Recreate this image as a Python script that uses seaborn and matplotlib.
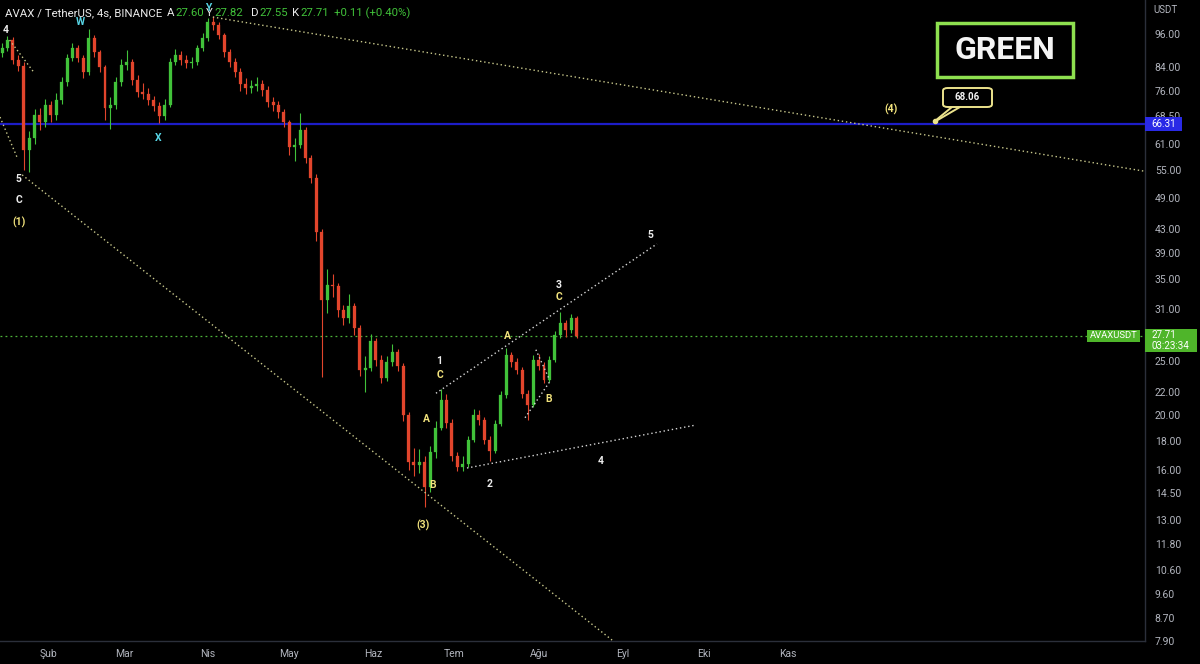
import numpy as np
import pandas as pd
import matplotlib
matplotlib.use("Agg")
import matplotlib.pyplot as plt
from matplotlib.ticker import NullLocator, FixedLocator, FixedFormatter
from matplotlib.patches import Rectangle, FancyBboxPatch
import seaborn as sns

# ---------------- data (2-day candles) ----------------
candle_start = "2022-01-15"
first_open = 89.0
closes = [90.6, 93.7, 86.3, 84.2, 59.6, 62.6, 68.8, 66.9, 71.7, 68.8,
          73.2, 78.8, 87.0, 90.6, 87.0, 82.1, 94.4, 89.2, 83.8, 70.8,
          71.7, 78.8, 84.5, 85.6, 79.5, 75.7, 75.0, 73.2, 71.4, 68.5,
          71.7, 85.6, 88.1, 86.3, 85.2, 85.6, 90.6, 94.4, 100.8, 99.5,
          95.6, 89.2, 85.6, 82.1, 78.2, 76.9, 77.5, 78.2, 76.3, 72.6,
          71.7, 69.6, 66.9, 60.3, 60.9, 64.7, 57.7, 53.2, 42.5, 32.1,
          34.2, 34.0, 30.8, 29.8, 31.4, 28.6, 24.1, 24.3, 27.1, 25.1,
          23.3, 24.9, 25.9, 24.5, 20.0, 16.5, 16.3, 16.5, 14.9, 17.2,
          19.0, 21.3, 19.4, 16.9, 16.2, 16.4, 18.1, 20.0, 19.6, 18.1,
          17.3, 19.3, 21.7, 25.6, 24.9, 24.1, 21.8, 20.9, 25.1, 24.5,
          23.1, 25.1, 27.8, 29.2, 28.4, 29.9, 27.71]
highs = [92.5, 95.3, 94.8, 88.0, 85.5, 64.5, 70.5, 70.8, 73.5, 73.0,
         75.5, 80.5, 88.5, 92.5, 91.8, 88.0, 98.0, 95.5, 90.0, 84.5,
         74.0, 80.5, 86.5, 90.0, 86.5, 81.0, 78.5, 77.0, 74.5, 72.5,
         73.5, 87.0, 90.5, 89.5, 88.0, 87.5, 92.0, 96.5, 102.5, 103.5,
         101.0, 96.5, 90.5, 87.0, 83.5, 80.0, 79.5, 80.5, 79.5, 77.5,
         74.0, 73.0, 70.5, 67.5, 62.5, 69.5, 65.5, 58.5, 54.0, 43.0,
         36.5, 35.8, 34.5, 31.5, 33.0, 31.8, 29.0, 25.5, 28.0, 27.5,
         25.6, 25.5, 26.8, 26.3, 24.8, 20.3, 17.5, 17.4, 16.9, 17.6,
         19.5, 22.3, 21.8, 19.7, 17.2, 16.9, 18.4, 20.5, 20.4, 19.9,
         18.4, 19.6, 22.1, 26.4, 26.0, 25.3, 24.4, 22.2, 25.6, 25.7,
         24.9, 25.5, 28.3, 30.6, 29.6, 30.3, 30.1]
lows = [87.5, 89.5, 85.0, 82.5, 55.0, 54.5, 61.0, 64.8, 65.5, 67.0,
        67.5, 72.0, 77.5, 86.0, 85.5, 80.0, 81.0, 87.5, 82.0, 67.5,
        65.0, 70.5, 77.5, 83.0, 78.0, 74.0, 73.5, 71.8, 70.0, 66.5,
        67.5, 71.0, 84.5, 84.5, 83.5, 83.5, 84.5, 89.5, 93.5, 97.5,
        94.0, 87.5, 84.0, 80.5, 76.0, 75.0, 75.5, 76.0, 74.5, 71.0,
        70.0, 68.0, 65.5, 58.5, 57.0, 60.0, 56.5, 52.0, 41.0, 23.4,
        30.5, 32.5, 30.0, 29.0, 29.3, 27.8, 23.5, 22.0, 24.0, 24.5,
        22.8, 23.0, 24.5, 24.0, 19.5, 16.0, 15.6, 15.8, 13.7, 14.6,
        16.8, 18.8, 19.0, 16.6, 15.9, 15.9, 16.2, 17.9, 19.2, 17.8,
        16.6, 17.1, 19.1, 21.5, 24.4, 23.7, 21.5, 19.6, 20.7, 24.1,
        22.8, 22.9, 24.9, 27.5, 27.6, 28.1, 27.5]

last_price = 27.71
level_price = 66.31
callout_value = "68.06"

y_ticks = [7.9, 8.7, 9.6, 10.6, 11.8, 13.0, 14.5, 16.0, 18.0, 20.0, 22.0,
           25.0, 31.0, 35.0, 39.0, 43.0, 49.0, 55.0, 61.0, 68.5, 76.0, 84.0, 96.0]
month_ticks = ["2022-02-01", "2022-03-01", "2022-04-01", "2022-05-01", "2022-06-01",
               "2022-07-01", "2022-08-01", "2022-09-01", "2022-10-01", "2022-11-01"]
month_labels = ["Şub", "Mar", "Nis", "May", "Haz", "Tem", "Ağu", "Eyl", "Eki", "Kas"]

# trend lines (date, price) pairs
trend_top = (["2022-04-02 19:00", "2023-03-12 19:00"], [103.0, 54.6])
trend_w4 = (["2022-01-17 19:00", "2022-01-26 17:00"], [93.7, 82.1])
trend_in = (["2022-01-14 06:00", "2022-01-20 12:00"], [68.25, 57.9])
trend_low = (["2022-01-22 10:00", "2022-08-28 03:00"], [53.8, 7.93])
trend_up = (["2022-06-24 03:00", "2022-09-13 17:00"], [21.9, 40.5])
trend_mid = (["2022-07-05 14:00", "2022-09-27 17:00"], [16.1, 19.2])
trend_b1 = (["2022-07-27 00:00", "2022-08-05 05:00"], [19.8, 23.0])
trend_b2 = (["2022-07-31 00:00", "2022-08-04 19:00"], [26.2, 23.3])

# ---------------- style ----------------
sns.set_theme(style="dark")
plt.rcParams["font.family"] = ["Roboto", "DejaVu Sans"]

BG = "#000000"
GRID_TXT = "#b2b5be"
UP = "#41c23a"
DOWN = "#e2452c"
YEL = "#f1e27c"
CYAN = "#58d6e6"
WHITE = "#ececec"

W, H = 1200, 664
fig = plt.figure(figsize=(12, 6.64), dpi=100, facecolor=BG)
ax = fig.add_axes([0, (H - 641) / H, 1145 / W, 641 / H])
ax.set_facecolor(BG)
ax.set_yscale("log")

dates = pd.date_range(candle_start, periods=len(closes), freq="2D")
opens = [first_open] + closes[:-1]
df = pd.DataFrame({"date": dates, "open": opens, "close": closes,
                   "high": highs, "low": lows})
df["up"] = df["close"] >= df["open"]
cols = np.where(df["up"], UP, DOWN)

ax.vlines(df["date"], df["low"], df["high"], colors=cols, lw=0.8, zorder=3)
ax.bar(df["date"], (df["close"] - df["open"]).abs(),
       bottom=df[["open", "close"]].min(axis=1), width=1.1,
       color=cols, edgecolor=cols, lw=0.2, zorder=4)

# horizontal levels
ax.axhline(level_price, color="#1d1dc8", lw=1.6, zorder=2)
ax.axhline(last_price, color="#4fb43a", lw=0.9, ls=(0, (1.5, 2.5)), zorder=2)

# trend lines
for (td, tp), c in [(trend_top, "#c9c98c"), (trend_w4, "#c9c98c"), (trend_in, "#c9c98c"),
                    (trend_low, "#c9c98c"), (trend_up, "#d6d6d6"), (trend_mid, "#d6d6d6"),
                    (trend_b1, "#d6d6d6"), (trend_b2, "#d6d6d6")]:
    sns.lineplot(x=pd.to_datetime(td), y=tp, ax=ax, color=c, lw=1.0,
                 linestyle=(0, (1, 2)), zorder=5)

ax.set_xlim(pd.Timestamp("2022-01-14 06:00"), pd.Timestamp("2023-03-12 19:00"))
ax.set_ylim(7.9, 110.5)

# axes styling
ax.yaxis.tick_right()
ax.yaxis.set_major_locator(FixedLocator(y_ticks))
ax.yaxis.set_major_formatter(FixedFormatter([f"{v:.2f}" for v in y_ticks]))
ax.yaxis.set_minor_locator(NullLocator())
ax.tick_params(axis="y", length=0, pad=7, labelsize=7.5, labelcolor=GRID_TXT)
ax.set_xticks(pd.to_datetime(month_ticks))
ax.set_xticklabels(month_labels)
ax.tick_params(axis="x", length=0, pad=6, labelsize=7.5, labelcolor=GRID_TXT)
ax.grid(False)
ax.set_xlabel("")
ax.set_ylabel("")
for s in ["top", "left"]:
    ax.spines[s].set_visible(False)
for s in ["right", "bottom"]:
    ax.spines[s].set_color("#2b2f3a")
    ax.spines[s].set_linewidth(1.0)


def fx(x):
    return x / W


def fy(y):
    return 1 - y / H


fig.text(fx(1166), fy(10), "USDT", color=GRID_TXT, fontsize=7, ha="center", va="center")

# header
hdr = [(5, "AVAX / TetherUS, 4s, BINANCE", WHITE), (167, "A", WHITE), (175, "27.60", UP),
       (206, "Y", WHITE), (214, "27.82", UP), (251, "D", WHITE), (259, "27.55", UP),
       (292, "K", WHITE), (300, "27.71", UP), (334, "+0.11 (+0.40%)", UP)]
for x, t, c in hdr:
    fig.text(fx(x), fy(13), t, color=c, fontsize=8.2, ha="left", va="center")

# wave labels
waves = [("4", 6, 30, WHITE), ("W", 80, 22, CYAN), ("X", 158, 138, CYAN), ("Y", 208, 8, CYAN),
         ("5", 18, 179, WHITE), ("C", 19, 200, WHITE), ("(1)", 19, 222, YEL),
         ("A", 426, 419, YEL), ("B", 433, 485, YEL), ("(3)", 423, 525, YEL),
         ("1", 439, 361, WHITE), ("C", 440, 375, YEL), ("2", 490, 484, WHITE),
         ("A", 507, 336, YEL), ("B", 549, 399, YEL), ("3", 559, 285, WHITE),
         ("C", 559, 297, YEL), ("5", 650, 235, WHITE), ("4", 601, 461, WHITE),
         ("(4)", 891, 109, YEL)]
for t, x, y, c in waves:
    fig.text(fx(x), fy(y), t, color=c, fontsize=7.5, fontweight="bold",
             ha="center", va="center")

# GREEN box
fig.patches.append(Rectangle((fx(937), fy(77)), fx(1073) - fx(937), fy(23) - fy(77),
                             transform=fig.transFigure, facecolor=BG,
                             edgecolor="#8ee04f", lw=2.5, zorder=10))
fig.text(fx(1005), fy(50), "GREEN", color="#f4f4f4", fontsize=23, fontweight="bold",
         ha="center", va="center", zorder=11)

# callout 68.06
fig.lines.append(plt.Line2D([fx(952), fx(935)], [fy(107), fy(121)], transform=fig.transFigure,
                            color="#ece38c", lw=1.4, zorder=10))
fig.lines.append(plt.Line2D([fx(960), fx(936)], [fy(107), fy(121)], transform=fig.transFigure,
                            color="#ece38c", lw=1.4, zorder=10))
fig.patches.append(FancyBboxPatch((fx(943), fy(107)), fx(992) - fx(943), fy(88) - fy(107),
                                  boxstyle="round,pad=0,rounding_size=0.004",
                                  transform=fig.transFigure, facecolor=BG,
                                  edgecolor="#ece38c", lw=1.4, zorder=11))
fig.text(fx(967.5), fy(97.5), callout_value, color="#f4f4f4", fontsize=7, fontweight="bold",
         ha="center", va="center", zorder=12)
fig.lines.append(plt.Line2D([fx(935)], [fy(121)], transform=fig.transFigure, marker="o",
                            ms=3, color="#ece38c", zorder=12))

# right price tags
fig.patches.append(Rectangle((fx(1145), fy(131)), fx(1182) - fx(1145), fy(117) - fy(131),
                             transform=fig.transFigure, facecolor="#2a2ae6", edgecolor="none", zorder=10))
fig.text(fx(1163.5), fy(124), f"{level_price:.2f}", color="white", fontsize=7,
         ha="center", va="center", zorder=11)
fig.patches.append(Rectangle((fx(1145), fy(352)), fx(1197) - fx(1145), fy(329) - fy(352),
                             transform=fig.transFigure, facecolor="#4fb52a", edgecolor="none", zorder=10))
fig.text(fx(1152), fy(335.5), f"{last_price:.2f}", color="white", fontsize=7,
         ha="left", va="center", zorder=11)
fig.text(fx(1152), fy(346), "03:23:34", color="white", fontsize=7,
         ha="left", va="center", zorder=11)
fig.patches.append(Rectangle((fx(1087), fy(342)), fx(1140) - fx(1087), fy(330) - fy(342),
                             transform=fig.transFigure, facecolor="#4fb52a", edgecolor="none", zorder=10))
fig.text(fx(1113.5), fy(336), "AVAXUSDT", color="white", fontsize=6.8,
         ha="center", va="center", zorder=11)

fig.savefig("out.png", dpi=100, facecolor=BG)
